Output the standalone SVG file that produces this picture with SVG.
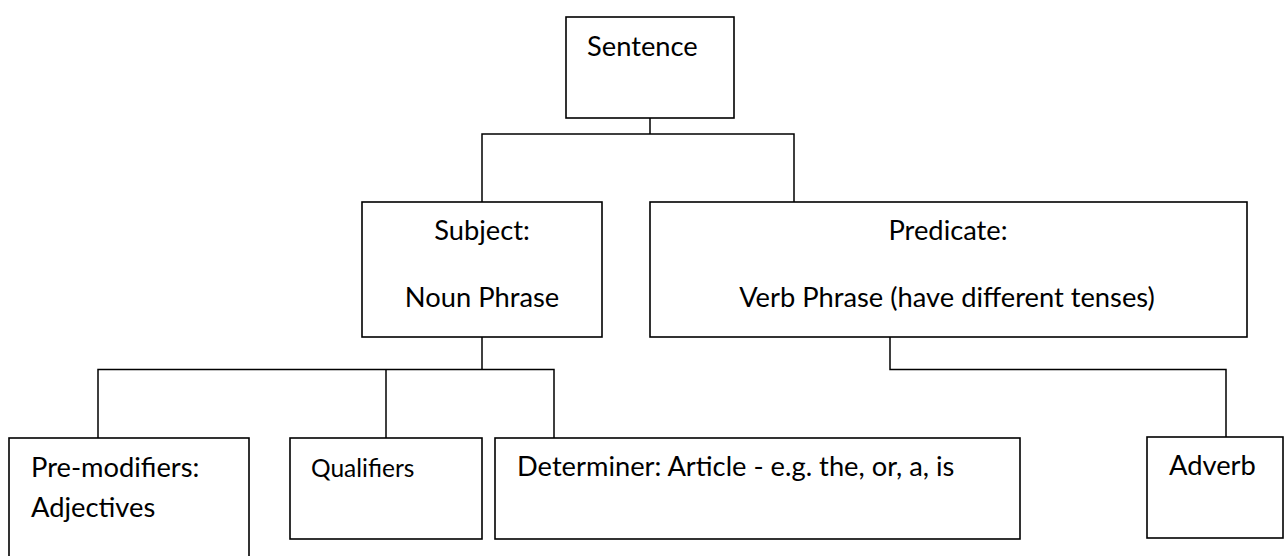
<svg xmlns="http://www.w3.org/2000/svg" width="1286" height="556" viewBox="0 0 1286 556">
  <style>
    .box { fill: #ffffff; stroke: #000000; stroke-width: 1.6; }
    .conn { fill: none; stroke: #000000; stroke-width: 1.5; }
    .t { font-family: Lato, "Open Sans", "Liberation Sans", sans-serif; font-size: 27.3px; fill: #000000; }
    .m { text-anchor: middle; }
  </style>
  <rect width="1286" height="556" fill="#ffffff"/>
  <g id="connectors">
    <path class="conn" d="M650,118 V134"/>
    <path class="conn" d="M482,202 V134 H794 V202"/>
    <path class="conn" d="M482,337 V369.5"/>
    <path class="conn" d="M98,438 V369.5 H554 V438"/>
    <path class="conn" d="M386,369.5 V438"/>
    <path class="conn" d="M890,337 V369.5 H1226 V437"/>
  </g>
  <g id="sentence">
    <rect class="box" x="566" y="17" width="168" height="101"/>
    <text class="t" x="587" y="56">Sentence</text>
  </g>
  <g id="subject">
    <rect class="box" x="362" y="202" width="240" height="135"/>
    <text class="t m" x="482" y="240">Subject:</text>
    <text class="t m" x="482" y="307">Noun Phrase</text>
  </g>
  <g id="predicate">
    <rect class="box" x="650" y="202" width="597" height="135"/>
    <text class="t m" x="948" y="240">Predicate:</text>
    <text class="t m" x="947" y="307">Verb Phrase (have different tenses)</text>
  </g>
  <g id="premodifiers">
    <rect class="box" x="9" y="438" width="240" height="130"/>
    <text class="t" x="31" y="477">Pre-modifiers:</text>
    <text class="t" x="31" y="517">Adjectives</text>
  </g>
  <g id="qualifiers">
    <rect class="box" x="290" y="438" width="192" height="101"/>
    <text class="t" x="311" y="477" style="font-size:24.5px">Qualifiers</text>
  </g>
  <g id="determiner">
    <rect class="box" x="495" y="438" width="525" height="101"/>
    <text class="t" x="517" y="476">Determiner: Article - e.g. the, or, a, is</text>
  </g>
  <g id="adverb">
    <rect class="box" x="1147" y="437" width="136" height="101"/>
    <text class="t" x="1169" y="475">Adverb</text>
  </g>
</svg>
